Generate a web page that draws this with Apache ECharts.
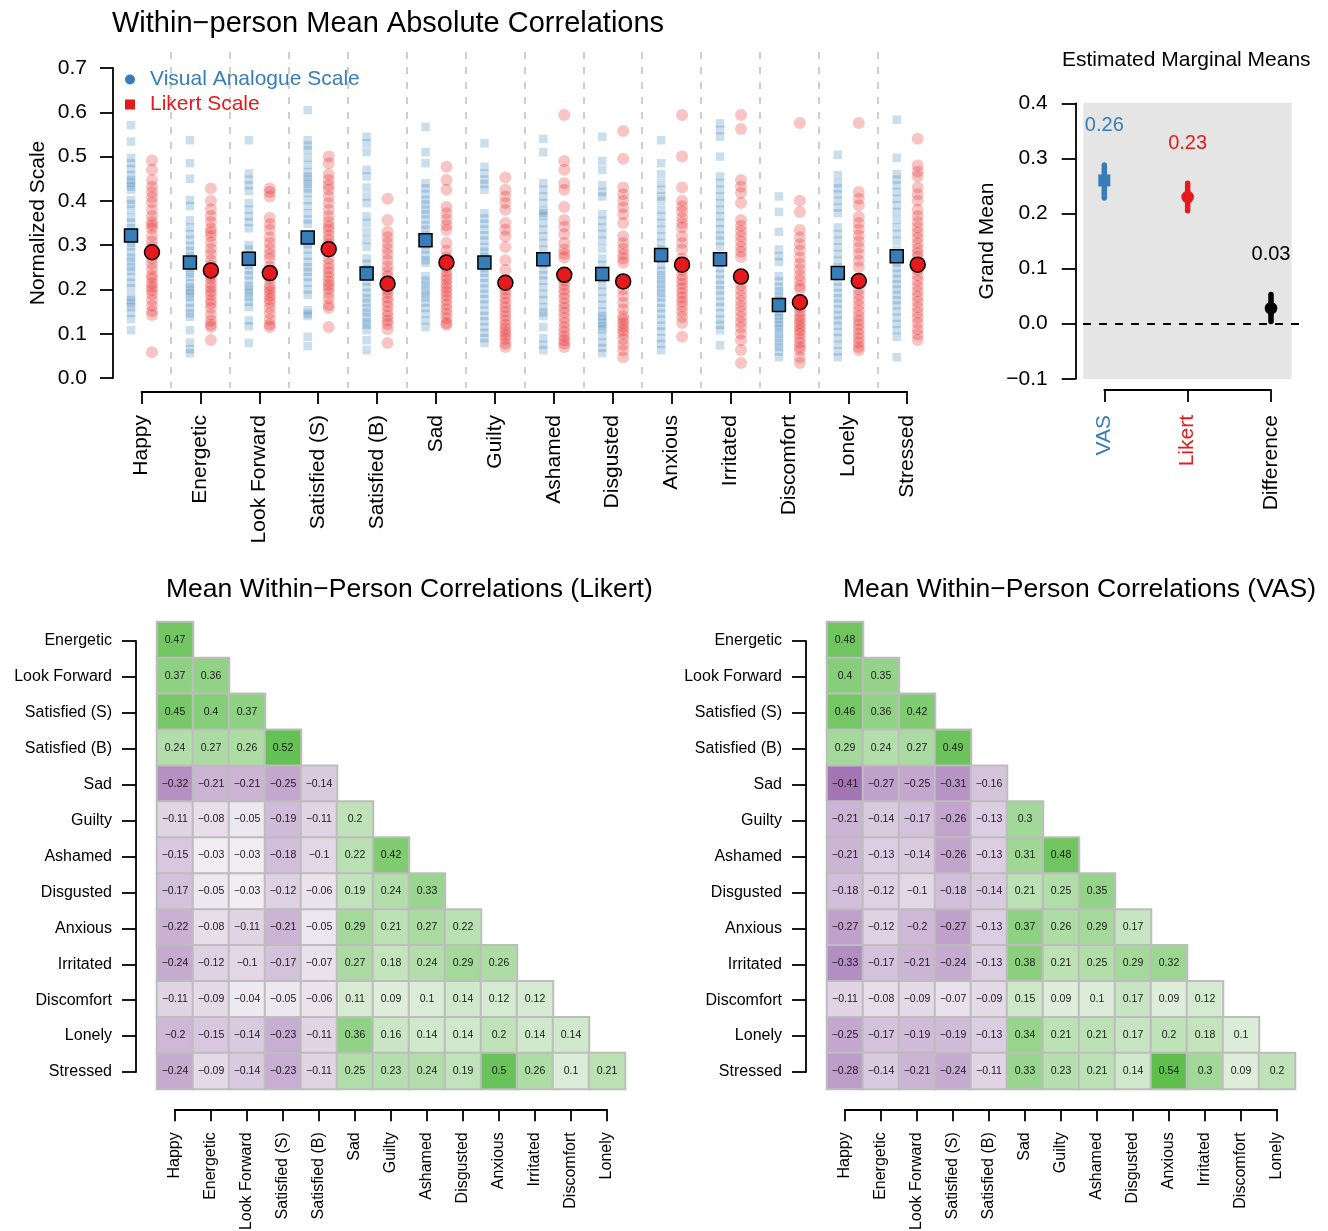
<!DOCTYPE html>
<html><head><meta charset="utf-8">
<script src="https://cdn.jsdelivr.net/npm/echarts@6/dist/echarts.min.js"></script>
<style>html,body{margin:0;padding:0;background:#fff}#c{width:1328px;height:1231px}</style>
</head><body><div id="c"></div>
<script>
// ---------------- DATA ----------------
const categories = ['Happy','Energetic','Look Forward','Satisfied (S)','Satisfied (B)','Sad','Guilty','Ashamed','Disgusted','Anxious','Irritated','Discomfort','Lonely','Stressed'];
const yTicks = [0,0.1,0.2,0.3,0.4,0.5,0.6,0.7];

// individual within-person mean absolute correlations (VAS)
const vasHappy = [0.571,0.534,0.497,0.485,0.472,0.458,0.447,0.441,0.432,0.425,0.402,0.393,0.380,0.362,0.351,0.338,0.330,0.318,0.305,0.297,0.284,0.272,0.263,0.251,0.242,0.228,0.215,0.203,0.184,0.176,0.168,0.160,0.147,0.133,0.108];
const vasEnergetic = [0.537,0.485,0.450,0.402,0.388,0.356,0.340,0.325,0.312,0.298,0.287,0.275,0.261,0.248,0.236,0.228,0.214,0.205,0.198,0.190,0.183,0.170,0.158,0.146,0.138,0.108,0.080,0.065,0.056];
const vasLookForward = [0.537,0.462,0.448,0.435,0.422,0.395,0.380,0.365,0.352,0.338,0.300,0.290,0.278,0.266,0.255,0.243,0.232,0.220,0.208,0.200,0.192,0.183,0.172,0.160,0.130,0.117,0.079];
const vasSatisfiedS = [0.605,0.537,0.525,0.515,0.497,0.481,0.465,0.455,0.447,0.438,0.428,0.418,0.402,0.388,0.372,0.358,0.348,0.302,0.290,0.276,0.262,0.250,0.240,0.228,0.215,0.200,0.188,0.153,0.145,0.140,0.093,0.072];
const vasSatisfiedB = [0.545,0.530,0.510,0.470,0.455,0.430,0.410,0.395,0.365,0.350,0.330,0.312,0.296,0.270,0.258,0.246,0.232,0.218,0.205,0.192,0.180,0.170,0.158,0.148,0.138,0.126,0.120,0.108,0.085,0.063];
const vasSad = [0.567,0.510,0.485,0.440,0.428,0.415,0.402,0.392,0.380,0.370,0.358,0.345,0.335,0.322,0.300,0.290,0.278,0.266,0.260,0.230,0.220,0.210,0.200,0.190,0.182,0.170,0.158,0.145,0.130,0.115];
const vasGuilty = [0.530,0.477,0.462,0.448,0.438,0.425,0.372,0.360,0.348,0.335,0.322,0.310,0.296,0.285,0.274,0.258,0.248,0.238,0.226,0.214,0.202,0.190,0.178,0.166,0.152,0.140,0.128,0.115,0.102,0.090,0.079];
const vasAshamed = [0.540,0.510,0.440,0.425,0.410,0.395,0.378,0.372,0.366,0.350,0.335,0.320,0.305,0.290,0.258,0.245,0.232,0.220,0.205,0.190,0.176,0.160,0.148,0.140,0.115,0.090,0.075,0.063];
const vasDisgusted = [0.545,0.490,0.470,0.435,0.420,0.410,0.370,0.355,0.340,0.325,0.310,0.292,0.270,0.255,0.240,0.225,0.210,0.195,0.180,0.165,0.150,0.140,0.132,0.124,0.116,0.110,0.095,0.080,0.068,0.056];
const vasAnxious = [0.537,0.485,0.460,0.440,0.425,0.410,0.400,0.380,0.365,0.350,0.335,0.320,0.305,0.290,0.270,0.255,0.242,0.232,0.222,0.212,0.202,0.192,0.182,0.170,0.158,0.145,0.132,0.118,0.105,0.090,0.077,0.063];
const vasIrritated = [0.575,0.560,0.545,0.500,0.455,0.440,0.425,0.410,0.395,0.380,0.365,0.350,0.336,0.322,0.310,0.296,0.260,0.248,0.235,0.222,0.210,0.198,0.186,0.172,0.160,0.146,0.132,0.120,0.108,0.074];
const vasDiscomfort = [0.410,0.375,0.330,0.290,0.275,0.262,0.230,0.218,0.206,0.196,0.186,0.176,0.168,0.160,0.150,0.142,0.134,0.126,0.118,0.110,0.100,0.090,0.080,0.070,0.060,0.047];
const vasLonely = [0.504,0.458,0.440,0.428,0.415,0.400,0.385,0.372,0.340,0.325,0.310,0.295,0.280,0.265,0.250,0.230,0.218,0.205,0.192,0.180,0.168,0.155,0.142,0.130,0.118,0.104,0.090,0.075,0.060,0.047];
const vasStressed = [0.583,0.497,0.460,0.448,0.435,0.420,0.405,0.390,0.375,0.357,0.340,0.325,0.310,0.290,0.260,0.248,0.236,0.224,0.212,0.200,0.188,0.176,0.164,0.150,0.136,0.122,0.108,0.093,0.047];

// individual values (Likert)
const likHappy = [0.491,0.470,0.447,0.432,0.420,0.408,0.396,0.380,0.366,0.352,0.345,0.338,0.322,0.308,0.296,0.281,0.270,0.258,0.246,0.232,0.225,0.214,0.206,0.198,0.189,0.176,0.163,0.151,0.142,0.058];
const likEnergetic = [0.428,0.400,0.381,0.366,0.352,0.338,0.329,0.320,0.306,0.292,0.280,0.266,0.254,0.232,0.225,0.214,0.205,0.196,0.188,0.176,0.168,0.158,0.143,0.130,0.120,0.115,0.086];
const likLookForward = [0.428,0.420,0.410,0.362,0.348,0.335,0.318,0.305,0.292,0.280,0.270,0.252,0.236,0.224,0.210,0.202,0.195,0.186,0.178,0.170,0.158,0.146,0.132,0.121,0.115];
const likSatisfiedS = [0.500,0.485,0.460,0.447,0.435,0.425,0.410,0.395,0.380,0.366,0.352,0.342,0.334,0.322,0.312,0.302,0.270,0.258,0.248,0.238,0.228,0.218,0.210,0.202,0.192,0.180,0.165,0.158,0.115];
const likSatisfiedB = [0.405,0.357,0.330,0.318,0.305,0.292,0.280,0.266,0.252,0.240,0.230,0.200,0.192,0.182,0.172,0.162,0.150,0.140,0.130,0.122,0.110,0.079];
const likSad = [0.477,0.447,0.425,0.386,0.372,0.358,0.345,0.334,0.305,0.288,0.272,0.250,0.240,0.230,0.222,0.212,0.204,0.195,0.186,0.176,0.166,0.155,0.145,0.135,0.124,0.120];
const likGuilty = [0.453,0.425,0.410,0.395,0.380,0.350,0.335,0.320,0.296,0.266,0.244,0.200,0.190,0.180,0.170,0.160,0.150,0.140,0.130,0.120,0.112,0.104,0.096,0.088,0.078,0.070];
const likAshamed = [0.594,0.490,0.470,0.440,0.425,0.386,0.357,0.342,0.325,0.305,0.290,0.280,0.272,0.220,0.210,0.200,0.190,0.180,0.168,0.158,0.148,0.136,0.125,0.114,0.104,0.094,0.085,0.078,0.070];
const likDisgusted = [0.558,0.495,0.430,0.415,0.400,0.385,0.370,0.350,0.320,0.305,0.292,0.280,0.270,0.260,0.200,0.185,0.170,0.155,0.140,0.132,0.124,0.116,0.108,0.100,0.088,0.075,0.062,0.047];
const likAnxious = [0.594,0.500,0.430,0.400,0.388,0.376,0.362,0.350,0.340,0.320,0.305,0.290,0.270,0.244,0.232,0.222,0.212,0.202,0.192,0.182,0.172,0.162,0.150,0.138,0.124,0.093];
const likIrritated = [0.594,0.562,0.447,0.432,0.418,0.395,0.357,0.344,0.332,0.320,0.308,0.296,0.285,0.273,0.210,0.198,0.186,0.174,0.162,0.150,0.138,0.126,0.114,0.100,0.085,0.063,0.034];
const likDiscomfort = [0.576,0.400,0.375,0.334,0.318,0.302,0.288,0.272,0.258,0.245,0.232,0.220,0.208,0.200,0.160,0.150,0.140,0.132,0.124,0.116,0.108,0.100,0.090,0.080,0.070,0.063,0.047,0.034];
const likLonely = [0.576,0.420,0.405,0.390,0.364,0.350,0.336,0.322,0.308,0.294,0.280,0.265,0.250,0.200,0.188,0.176,0.164,0.152,0.140,0.130,0.120,0.110,0.100,0.090,0.080,0.070,0.063];
const likStressed = [0.540,0.480,0.466,0.455,0.430,0.415,0.400,0.380,0.366,0.352,0.340,0.328,0.316,0.304,0.292,0.282,0.273,0.244,0.232,0.220,0.208,0.196,0.184,0.172,0.160,0.148,0.136,0.124,0.110,0.098,0.086];

const vasMeans = [0.322,0.261,0.269,0.317,0.236,0.311,0.261,0.268,0.235,0.278,0.268,0.165,0.237,0.275];
const likertMeans = [0.284,0.243,0.237,0.291,0.213,0.261,0.215,0.233,0.218,0.256,0.229,0.171,0.219,0.256];

// estimated marginal means
const emmLabels = ['VAS','Likert','Difference'];
const emmMean = [0.260, 0.230, 0.028];
const emmLower = [0.228, 0.205, 0.004];
const emmUpper = [0.288, 0.255, 0.053];
const emmText = ['0.26','0.23','0.03'];
const emmTicks = [-0.1,0,0.1,0.2,0.3,0.4];

// correlation matrices (lower triangle), rows Energetic..Stressed, columns Happy..Lonely
const heatCols = ['Happy','Energetic','Look Forward','Satisfied (S)','Satisfied (B)','Sad','Guilty','Ashamed','Disgusted','Anxious','Irritated','Discomfort','Lonely'];
const heatRows = ['Energetic','Look Forward','Satisfied (S)','Satisfied (B)','Sad','Guilty','Ashamed','Disgusted','Anxious','Irritated','Discomfort','Lonely','Stressed'];
const likertCorr = [
  [0.47],
  [0.37,0.36],
  [0.45,0.4,0.37],
  [0.24,0.27,0.26,0.52],
  [-0.32,-0.21,-0.21,-0.25,-0.14],
  [-0.11,-0.08,-0.05,-0.19,-0.11,0.2],
  [-0.15,-0.03,-0.03,-0.18,-0.1,0.22,0.42],
  [-0.17,-0.05,-0.03,-0.12,-0.06,0.19,0.24,0.33],
  [-0.22,-0.08,-0.11,-0.21,-0.05,0.29,0.21,0.27,0.22],
  [-0.24,-0.12,-0.1,-0.17,-0.07,0.27,0.18,0.24,0.29,0.26],
  [-0.11,-0.09,-0.04,-0.05,-0.06,0.11,0.09,0.1,0.14,0.12,0.12],
  [-0.2,-0.15,-0.14,-0.23,-0.11,0.36,0.16,0.14,0.14,0.2,0.14,0.14],
  [-0.24,-0.09,-0.14,-0.23,-0.11,0.25,0.23,0.24,0.19,0.5,0.26,0.1,0.21]
];
const vasCorr = [
  [0.48],
  [0.4,0.35],
  [0.46,0.36,0.42],
  [0.29,0.24,0.27,0.49],
  [-0.41,-0.27,-0.25,-0.31,-0.16],
  [-0.21,-0.14,-0.17,-0.26,-0.13,0.3],
  [-0.21,-0.13,-0.14,-0.26,-0.13,0.31,0.48],
  [-0.18,-0.12,-0.1,-0.18,-0.14,0.21,0.25,0.35],
  [-0.27,-0.12,-0.2,-0.27,-0.13,0.37,0.26,0.29,0.17],
  [-0.33,-0.17,-0.21,-0.24,-0.13,0.38,0.21,0.25,0.29,0.32],
  [-0.11,-0.08,-0.09,-0.07,-0.09,0.15,0.09,0.1,0.17,0.09,0.12],
  [-0.25,-0.17,-0.19,-0.19,-0.13,0.34,0.21,0.21,0.17,0.2,0.18,0.1],
  [-0.28,-0.14,-0.21,-0.24,-0.11,0.33,0.23,0.21,0.14,0.54,0.3,0.09,0.2]
];

// ---------------- BUILD ----------------
const vasPoints = [vasHappy,vasEnergetic,vasLookForward,vasSatisfiedS,vasSatisfiedB,vasSad,vasGuilty,vasAshamed,vasDisgusted,vasAnxious,vasIrritated,vasDiscomfort,vasLonely,vasStressed];
const likertPoints = [likHappy,likEnergetic,likLookForward,likSatisfiedS,likSatisfiedB,likSad,likGuilty,likAshamed,likDisgusted,likAnxious,likIrritated,likDiscomfort,likLonely,likStressed];

const BLUE = '#377eb8', RED = '#e41a1c', BLACK = '#000';
const emmColors = [BLUE, RED, BLACK];
const FONT = '"Liberation Sans", Arial, Helvetica, sans-serif';
const VAS_OFF = -0.178, LIK_OFF = 0.178;
const minus = s => String(s).replace('-', '\u2212');

// layout
const S_C0 = 141.5, S_STEP = 58.9;             // strip plot category centres
const S_Y0 = 378, S_PX = 442.857;              // y=0 pixel, px per unit
const S_TOP = 52, S_BOT = 388;
const E_Y0 = 323.7, E_PX = 551;                 // EMM y scale
const E_X1 = 1104.3, E_XSTEP = 83.35, E_L = 1083, E_R = 1302;

const axLine = {show:true, lineStyle:{color:'#000', width:1.8}};
const hiddenX = g => ({gridIndex:g, type:'value', show:false, min:0, max:1});
const hiddenY = g => ({gridIndex:g, type:'value', show:false, min:0, max:1});

const grids = [
  {left:S_C0 - S_STEP/2, top:S_TOP, width:S_STEP*14, height:S_BOT - S_TOP},       // 0 strip data
  {left:113, top:S_Y0 - 0.7*S_PX, width:1, height:0.7*S_PX},                         // 1 strip y axis
  {left:S_C0, top:391, width:S_STEP*13, height:1},                                   // 2 strip x axis
  {left:1083.3, top:102.7, width:208.4, height:276.3, show:true, backgroundColor:'#e5e5e5', borderWidth:0}, // 3 panel
  {left:E_L, top:E_Y0 - 0.4*E_PX, width:E_R - E_L, height:0.5*E_PX},                 // 4 emm data
  {left:1075.7, top:E_Y0 - 0.4*E_PX, width:1, height:0.5*E_PX},                      // 5 emm y axis
  {left:E_X1, top:389, width:E_XSTEP*2, height:1},                                   // 6 emm x axis
  {left:157, top:622, width:468, height:467},                                        // 7 heat L
  {left:136, top:641, width:1, height:431},                                          // 8 heat L y
  {left:175, top:1109, width:432, height:1},                                         // 9 heat L x
  {left:827, top:622, width:468, height:467},                                        // 10 heat R
  {left:806, top:641, width:1, height:431},                                          // 11 heat R y
  {left:845, top:1109, width:432, height:1}                                          // 12 heat R x
];

const xAxes = [
  {gridIndex:0, type:'value', min:-0.5, max:13.5, interval:1,
    axisLine:{show:false}, axisTick:{show:false}, axisLabel:{show:false},
    splitLine:{show:true, showMinLine:false, showMaxLine:false, lineStyle:{color:'#cfcfcf', width:2, type:[7,8]}}},
  hiddenX(1),
  {gridIndex:2, type:'category', data:categories, boundaryGap:false, position:'bottom',
    axisLine:axLine, axisTick:{show:true, length:12, lineStyle:{color:'#000', width:1.8}, alignWithLabel:true},
    axisLabel:{rotate:90, fontSize:21, color:'#000', margin:23, interval:0, hideOverlap:false}, splitLine:{show:false}},
  hiddenX(3),
  {gridIndex:4, type:'value', min:1 - (E_X1 - E_L)/E_XSTEP, max:3 + (E_R - (E_X1 + 2*E_XSTEP))/E_XSTEP, show:false},
  hiddenX(5),
  {gridIndex:6, type:'category', data:emmLabels, boundaryGap:false, position:'bottom',
    axisLine:axLine, axisTick:{show:true, length:12, lineStyle:{color:'#000', width:1.8}},
    axisLabel:{rotate:90, fontSize:21, margin:25, interval:0, hideOverlap:false, color:(v,i)=>emmColors[i]}, splitLine:{show:false}},
  {gridIndex:7, type:'category', data:heatCols, show:false},
  hiddenX(8),
  {gridIndex:9, type:'category', data:heatCols, boundaryGap:false, position:'bottom',
    axisLine:axLine, axisTick:{show:true, length:12, lineStyle:{color:'#000', width:1.8}},
    axisLabel:{rotate:90, fontSize:16, color:'#000', margin:23, interval:0, hideOverlap:false}, splitLine:{show:false}},
  {gridIndex:10, type:'category', data:heatCols, show:false},
  hiddenX(11),
  {gridIndex:12, type:'category', data:heatCols, boundaryGap:false, position:'bottom',
    axisLine:axLine, axisTick:{show:true, length:12, lineStyle:{color:'#000', width:1.8}},
    axisLabel:{rotate:90, fontSize:16, color:'#000', margin:23, interval:0, hideOverlap:false}, splitLine:{show:false}}
];

const yAxes = [
  {gridIndex:0, type:'value', min:-(S_BOT - S_Y0)/S_PX, max:(S_Y0 - S_TOP)/S_PX, show:false},
  {gridIndex:1, type:'value', min:yTicks[0], max:yTicks[yTicks.length-1], interval:0.1, position:'left',
    axisLine:axLine, axisTick:{show:true, length:13, lineStyle:{color:'#000', width:1.8}},
    axisLabel:{fontSize:21, color:'#000', margin:26, formatter:v=>v.toFixed(1)}, splitLine:{show:false},
    name:'Normalized Scale', nameLocation:'middle', nameGap:64, nameTextStyle:{fontSize:21, color:'#000'}},
  hiddenY(2),
  hiddenY(3),
  {gridIndex:4, type:'value', min:emmTicks[0], max:emmTicks[emmTicks.length-1], show:false},
  {gridIndex:5, type:'value', min:emmTicks[0], max:emmTicks[emmTicks.length-1], interval:0.1, position:'left',
    axisLine:axLine, axisTick:{show:true, length:14, lineStyle:{color:'#000', width:1.8}},
    axisLabel:{fontSize:21, color:'#000', margin:28, formatter:v=>minus(v.toFixed(1))}, splitLine:{show:false},
    name:'Grand Mean', nameLocation:'middle', nameGap:78, nameTextStyle:{fontSize:21, color:'#000'}},
  hiddenY(6),
  {gridIndex:7, type:'category', data:heatRows, inverse:true, show:false},
  {gridIndex:8, type:'category', data:heatRows, inverse:true, boundaryGap:false, position:'left',
    axisLine:axLine, axisTick:{show:true, length:14, lineStyle:{color:'#000', width:1.8}},
    axisLabel:{fontSize:16, color:'#000', margin:24, interval:0, hideOverlap:false}, splitLine:{show:false}},
  hiddenY(9),
  {gridIndex:10, type:'category', data:heatRows, inverse:true, show:false},
  {gridIndex:11, type:'category', data:heatRows, inverse:true, boundaryGap:false, position:'left',
    axisLine:axLine, axisTick:{show:true, length:14, lineStyle:{color:'#000', width:1.8}},
    axisLabel:{fontSize:16, color:'#000', margin:24, interval:0, hideOverlap:false}, splitLine:{show:false}},
  hiddenY(12)
];

// strip data
const vasScatter = [], likScatter = [];
categories.forEach((c, i) => {
  vasPoints[i].forEach(v => vasScatter.push([i + VAS_OFF, v]));
  likertPoints[i].forEach(v => likScatter.push([i + LIK_OFF, v]));
});

function heatData(mat) {
  const out = [];
  mat.forEach((row, r) => row.forEach((v, c) => out.push([c, r, v])));
  return out;
}

const heatSeriesBase = {
  type:'heatmap', silent:true,
  label:{show:true, fontSize:10.5, color:'#1a1a1a', formatter:p=>minus(p.value[2])},
  itemStyle:{borderColor:'#bdbdbd', borderWidth:2},
  emphasis:{disabled:true}
};

const series = [
  {name:'Visual Analogue Scale', type:'scatter', xAxisIndex:0, yAxisIndex:0, data:vasScatter,
    symbol:'rect', symbolSize:8.5, itemStyle:{color:BLUE, opacity:0.26}, silent:true, z:2},
  {name:'Likert Scale', type:'scatter', xAxisIndex:0, yAxisIndex:0, data:likScatter,
    symbol:'circle', symbolSize:12, itemStyle:{color:RED, opacity:0.26}, silent:true, z:2},
  {name:'VAS mean', type:'scatter', xAxisIndex:0, yAxisIndex:0,
    data:vasMeans.map((m,i)=>[i + VAS_OFF, m]), symbol:'rect', symbolSize:13,
    itemStyle:{color:BLUE, opacity:1, borderColor:'#000', borderWidth:1.5}, silent:true, z:5},
  {name:'Likert mean', type:'scatter', xAxisIndex:0, yAxisIndex:0,
    data:likertMeans.map((m,i)=>[i + LIK_OFF, m]), symbol:'circle', symbolSize:15,
    itemStyle:{color:RED, opacity:1, borderColor:'#000', borderWidth:1.5}, silent:true, z:5},
  {name:'EMM', type:'custom', xAxisIndex:4, yAxisIndex:4, silent:true, z:5,
    data:emmLabels.map((l,i)=>[i+1, emmMean[i], emmLower[i], emmUpper[i]]),
    renderItem:(params, api) => {
      const idx = params.dataIndex;
      const x = api.value(0);
      const pM = api.coord([x, api.value(1)]);
      const pLo = api.coord([x, api.value(2)]);
      const pHi = api.coord([x, api.value(3)]);
      const col = emmColors[idx];
      const marker = idx === 0
        ? {type:'rect', shape:{x:pM[0]-6, y:pM[1]-6, width:12, height:12}, style:{fill:col}}
        : {type:'circle', shape:{cx:pM[0], cy:pM[1], r:6.3}, style:{fill:col}};
      return {type:'group', children:[
        {type:'line', shape:{x1:pLo[0], y1:pLo[1], x2:pHi[0], y2:pHi[1]}, style:{stroke:col, lineWidth:5.5, lineCap:'round'}},
        marker,
        {type:'text', x:pHi[0], y:pHi[1]-40, style:{text:emmText[idx], fill:col, font:'20px ' + FONT, align:'center', verticalAlign:'middle'}}
      ]};
    },
    markLine:{silent:true, symbol:'none', label:{show:false},
      lineStyle:{color:'#000', width:1.8, type:[8,8]}, data:[{yAxis:0}]}
  },
  Object.assign({name:'Likert corr', xAxisIndex:7, yAxisIndex:7, data:heatData(likertCorr)}, heatSeriesBase),
  Object.assign({name:'VAS corr', xAxisIndex:10, yAxisIndex:10, data:heatData(vasCorr)}, heatSeriesBase)
];

const option = {
  animation:false,
  backgroundColor:'#fff',
  textStyle:{fontFamily:FONT},
  title:[
    {text:'Within\u2212person Mean Absolute Correlations', left:112, top:9, padding:0,
      textStyle:{fontSize:29, fontWeight:'normal', color:'#000', fontFamily:FONT}},
    {text:'Estimated Marginal Means', left:1062, top:50, padding:0,
      textStyle:{fontSize:21, fontWeight:'normal', color:'#000', fontFamily:FONT}},
    {text:'Mean Within\u2212Person Correlations (Likert)', left:166, top:576, padding:0,
      textStyle:{fontSize:26.5, fontWeight:'normal', color:'#000', fontFamily:FONT}},
    {text:'Mean Within\u2212Person Correlations (VAS)', left:843, top:576, padding:0,
      textStyle:{fontSize:26.5, fontWeight:'normal', color:'#000', fontFamily:FONT}}
  ],
  legend:{left:125, top:69, orient:'vertical', padding:0, itemWidth:10, itemHeight:10, itemGap:4, selectedMode:false,
    itemStyle:{opacity:1, borderWidth:0},
    textStyle:{fontSize:21, fontFamily:FONT, padding:[0,0,0,10], lineHeight:21},
    data:[
      {name:'Visual Analogue Scale', icon:'circle', itemStyle:{color:BLUE, opacity:1}, textStyle:{color:BLUE}},
      {name:'Likert Scale', icon:'rect', itemStyle:{color:RED, opacity:1}, textStyle:{color:RED}}
    ]},
  visualMap:{type:'continuous', show:false, min:-0.55, max:0.55, seriesIndex:[5,6], dimension:2,
    inRange:{color:['#86489e','#f7f7f7','#5cbe4a']}},
  grid:grids,
  xAxis:xAxes,
  yAxis:yAxes,
  series:series
};

const chart = echarts.init(document.getElementById('c'), null, {renderer:'canvas', width:1328, height:1231});
chart.setOption(option);
</script>
</body></html>
